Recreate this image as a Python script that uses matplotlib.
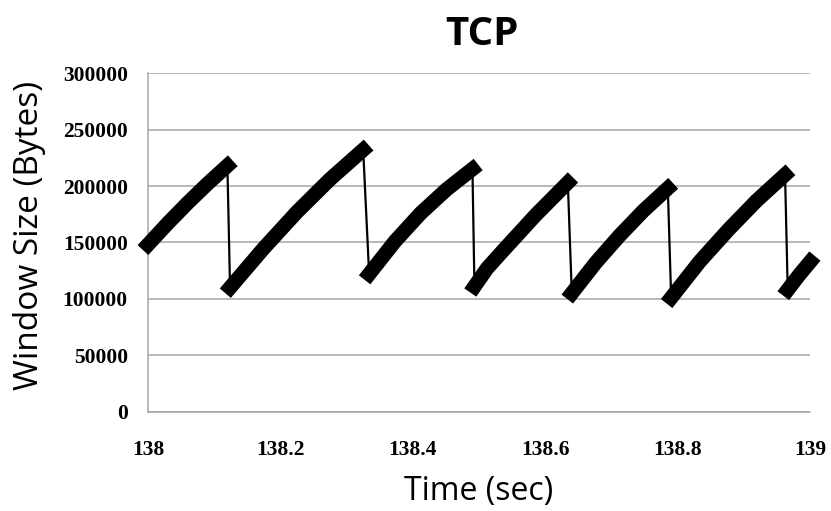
import matplotlib
matplotlib.use('Agg')
import matplotlib.pyplot as plt
import numpy as np

# window size samples (time in sec, window in bytes)
time = np.array([138.000, 138.030, 138.060, 138.090, 138.120,
                 138.124, 138.175, 138.225, 138.275, 138.325,
                 138.334, 138.373, 138.412, 138.451, 138.490,
                 138.493, 138.512, 138.535, 138.585, 138.634,
                 138.640, 138.676, 138.712, 138.748, 138.785,
                 138.790, 138.833, 138.876, 138.919, 138.962,
                 138.966, 138.983, 139.000])
window = np.array([148000, 167000, 185000, 202000, 218000,
                   110000, 145000, 177000, 206000, 232000,
                   122000, 151000, 176000, 197000, 215000,
                   111000, 127000, 142000, 174000, 203000,
                   105000, 132000, 156000, 178000, 198000,
                   101000, 133000, 161000, 187000, 210000,
                   108000, 121000, 133000])

xticks = [138, 138.2, 138.4, 138.6, 138.8, 139]
yticks = [0, 50000, 100000, 150000, 200000, 250000, 300000]

fig = plt.figure(figsize=(8.31, 5.11), dpi=100)
ax = fig.add_axes([0.178, 0.194, 0.797, 0.663])

# thin line through every sample (shows the drops)
ax.plot(time, window, color='black', lw=1.6, zorder=3)

# thick rising parts, split where the window drops
drops = np.where(np.diff(window) < 0)[0] + 1
for seg_t, seg_w in zip(np.split(time, drops), np.split(window, drops)):
    ax.plot(seg_t, seg_w, color='black', lw=10.5, solid_capstyle='projecting',
            solid_joinstyle='round', zorder=4, clip_on=False)

ax.set_xlim(138, 139)
ax.set_ylim(0, 300000)
ax.set_xticks(xticks)
ax.set_xticklabels(['%g' % t for t in xticks])
ax.set_yticks(yticks)
ax.set_yticklabels([str(v) for v in yticks])
ax.grid(axis='y', color='#a6a6a6', lw=1.1)
ax.set_axisbelow(True)
for s in ['top', 'right']:
    ax.spines[s].set_visible(False)
for s in ['left', 'bottom']:
    ax.spines[s].set_color('#a6a6a6')
    ax.spines[s].set_linewidth(1.1)
ax.tick_params(length=0)
ax.tick_params(axis='y', pad=14.5)
ax.tick_params(axis='x', pad=20)
for lab in ax.get_xticklabels() + ax.get_yticklabels():
    lab.set_fontfamily('Liberation Serif')
    lab.set_fontweight('bold')
    lab.set_fontsize(15.5)

ax.set_xlabel('Time (sec)', fontfamily='Open Sans', fontsize=23, labelpad=11)
ax.set_ylabel('Window Size (Bytes)', fontfamily='Open Sans', fontsize=24, labelpad=12)
ax.yaxis.label.set_y(0.521)
ax.set_title('TCP', fontfamily='Open Sans', fontweight='bold', fontsize=29, pad=20, x=0.505)

fig.savefig('out.png', dpi=100)
